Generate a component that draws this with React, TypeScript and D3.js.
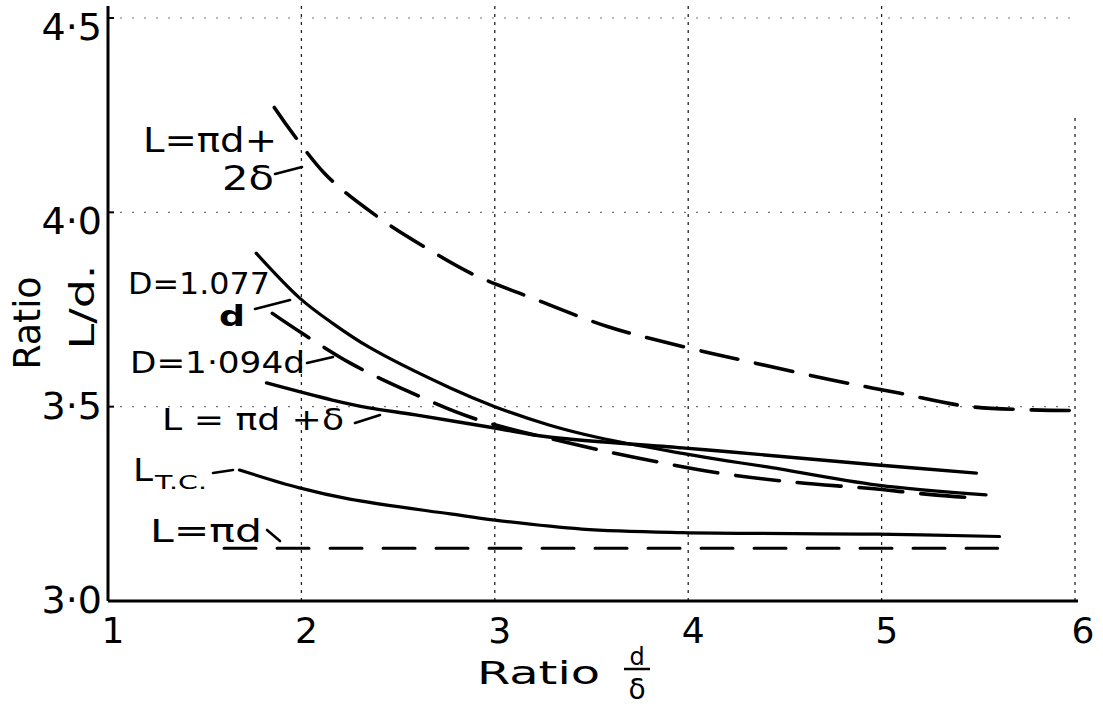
import React from "react";
import * as d3 from "d3";

// ---- data ----
const xTicks = [1, 2, 3, 4, 5, 6];
const xTickLabels = ["1", "2", "3", "4", "5", "6"];
const yTicks = [3.0, 3.5, 4.0, 4.5];
const yTickLabels = ["3·0", "3·5", "4·0", "4·5"];

// L = πd + 2δ (dashed)
const twoDeltaX = [1.86, 2.12, 2.39, 2.64, 2.89, 3.19, 3.59, 3.97, 4.32, 4.73, 5.09, 5.46, 6.0];
const twoDeltaY = [4.27, 4.10, 3.99, 3.91, 3.84, 3.78, 3.705, 3.655, 3.615, 3.57, 3.535, 3.50, 3.49];

// D = 1.077 d (solid)
const d1077X = [1.766, 1.99, 2.16, 2.35, 2.77, 3.0, 3.28, 3.54, 3.97, 4.21, 4.41, 4.98, 5.54];
const d1077Y = [3.895, 3.78, 3.715, 3.653, 3.548, 3.50, 3.453, 3.42, 3.38, 3.36, 3.345, 3.298, 3.273];

// D = 1.094 d (dashed)
const d1094X = [1.85, 2.0, 2.26, 2.55, 2.89, 3.44, 3.72, 4.15, 4.56, 4.93, 5.27, 5.49];
const d1094Y = [3.74, 3.69, 3.61, 3.54, 3.47, 3.40, 3.37, 3.33, 3.305, 3.29, 3.273, 3.265];

// L = πd + δ (solid)
const oneDeltaX = [1.82, 2.16, 2.35, 2.59, 3.0, 3.28, 3.97, 4.21, 4.98, 5.49];
const oneDeltaY = [3.561, 3.517, 3.497, 3.479, 3.445, 3.422, 3.394, 3.384, 3.35, 3.329];

// L T.C. (solid)
const tcX = [1.68, 1.99, 2.25, 2.77, 3.0, 3.45, 3.97, 4.98, 5.61];
const tcY = [3.337, 3.291, 3.262, 3.224, 3.208, 3.185, 3.176, 3.172, 3.166];

// L = πd (dashed)
const piDX = [1.6, 5.6];
const piDY = [3.136, 3.136];

const W = 1103;
const H = 706;
const FONT = "'DejaVu Sans', sans-serif";

export default function App() {
  const x = d3.scaleLinear().domain([1, 6]).range([108, 1075]);
  const y = d3.scaleLinear().domain([3, 4.5]).range([601, 18]);

  const line = d3
    .line<[number, number]>()
    .x((d) => x(d[0]))
    .y((d) => y(d[1]))
    .curve(d3.curveCatmullRom.alpha(0.5));

  const zip = (a: number[], b: number[]) => a.map((v, i) => [v, b[i]] as [number, number]);

  const curves = [
    { pts: zip(twoDeltaX, twoDeltaY), dash: "38 18", w: 3.6 },
    { pts: zip(d1077X, d1077Y), dash: null, w: 3.2 },
    { pts: zip(d1094X, d1094Y), dash: "44 18", w: 3.6 },
    { pts: zip(oneDeltaX, oneDeltaY), dash: null, w: 3.4 },
    { pts: zip(tcX, tcY), dash: null, w: 3.2 },
    { pts: zip(piDX, piDY), dash: "32 21", w: 3 },
  ];

  const txt = (
    s: string,
    xx: number,
    yy: number,
    size: number,
    len?: number,
    extra: any = {}
  ) => (
    <text
      x={xx}
      y={yy}
      fontSize={size}
      fontFamily={FONT}
      fill="#000"
      {...(len ? { textLength: len, lengthAdjust: "spacingAndGlyphs" } : {})}
      {...extra}
    >
      {s}
    </text>
  );

  const pointers: [number, number, number, number][] = [
    [275, 174, 302, 167],
    [255, 309, 290, 300],
    [307, 363, 333, 357],
    [355, 423, 380, 415],
    [213, 473, 233, 470],
    [267, 530, 280, 541],
  ];

  return (
    <svg
      width={W}
      height={H}
      style={{ position: "absolute", left: 0, top: 0, background: "#fff" }}
    >
      <rect x={0} y={0} width={W} height={H} fill="#fff" />
      {/* vertical dotted gridlines */}
      {xTicks.slice(1).map((t) => (
        <line
          key={"gx" + t}
          x1={x(t)}
          x2={x(t)}
          y1={y(3)}
          y2={t === 6 ? y(4.25) : 2}
          stroke="#222"
          strokeWidth={1.3}
          strokeDasharray="3 5"
        />
      ))}
      {/* horizontal dotted gridlines */}
      {yTicks.slice(1).map((t) => (
        <line
          key={"gy" + t}
          x1={x(1)}
          x2={x(6)}
          y1={y(t)}
          y2={y(t)}
          stroke="#777"
          strokeWidth={1.2}
          strokeDasharray="2 10"
        />
      ))}

      {/* axes */}
      <line x1={x(1)} x2={x(1)} y1={y(3)} y2={6} stroke="#000" strokeWidth={3} />
      <line x1={x(1)} x2={x(6) + 3} y1={y(3)} y2={y(3)} stroke="#000" strokeWidth={3} />
      {yTicks.map((t) => (
        <line key={"yt" + t} x1={x(1)} x2={x(1) + 6} y1={y(t)} y2={y(t)} stroke="#000" strokeWidth={2} />
      ))}

      {/* curves */}
      {curves.map((c, i) => (
        <path
          key={i}
          d={line(c.pts) || ""}
          fill="none"
          stroke="#000"
          strokeWidth={c.w}
          strokeLinecap="round"
          strokeDasharray={c.dash || undefined}
        />
      ))}

      {/* pointer strokes from labels */}
      {pointers.map((p, i) => (
        <line key={"p" + i} x1={p[0]} y1={p[1]} x2={p[2]} y2={p[3]} stroke="#000" strokeWidth={2.6} strokeLinecap="round" />
      ))}

      {/* y tick labels */}
      {yTicks.map((t, i) => (
        <text
          key={"yl" + t}
          x={x(1) - 6}
          y={y(t) + (t >= 4 ? 22 : 12)}
          fontSize={38}
          fontFamily={FONT}
          textAnchor="end"
          fill="#000"
        >
          {yTickLabels[i]}
        </text>
      ))}
      {/* x tick labels */}
      {xTicks.map((t, i) => (
        <text
          key={"xl" + t}
          x={x(t) + (t === 6 ? 8 : 5)}
          y={643}
          fontSize={36}
          fontFamily={FONT}
          textAnchor="middle"
          fill="#000"
        >
          {xTickLabels[i]}
        </text>
      ))}

      {/* x axis title */}
      {txt("Ratio", 477, 684, 32, 123)}
      {txt("d", 637, 665, 24, undefined, { textAnchor: "middle" })}
      <line x1={624} x2={650} y1={669} y2={669} stroke="#000" strokeWidth={2.5} />
      {txt("δ", 637, 699, 28, undefined, { textAnchor: "middle" })}

      {/* y axis title */}
      <g transform="translate(40,323) rotate(-90)">
        {txt("Ratio", 0, 0, 38, 93, { textAnchor: "middle" })}
      </g>
      <g transform="translate(94,307) rotate(-90)">
        {txt("L/d.", 0, 0, 34, 85, { textAnchor: "middle" })}
      </g>

      {/* curve labels */}
      {txt("L=πd+", 143, 152, 34, 134)}
      {txt("2δ", 222, 190, 34, 52)}
      {txt("D=1.077", 128, 294, 30, 142)}
      {txt("d", 219, 326, 28, 26, { fontWeight: "bold" })}
      {txt("D=1·094d", 130, 373, 30, 175)}
      {txt("L = πd +δ", 162, 430, 30, 182)}
      {txt("L", 133, 481, 32, 20)}
      {txt("T.C.", 155, 489, 20, 52)}
      {txt("L=πd", 150, 542, 32, 112)}
    </svg>
  );
}
